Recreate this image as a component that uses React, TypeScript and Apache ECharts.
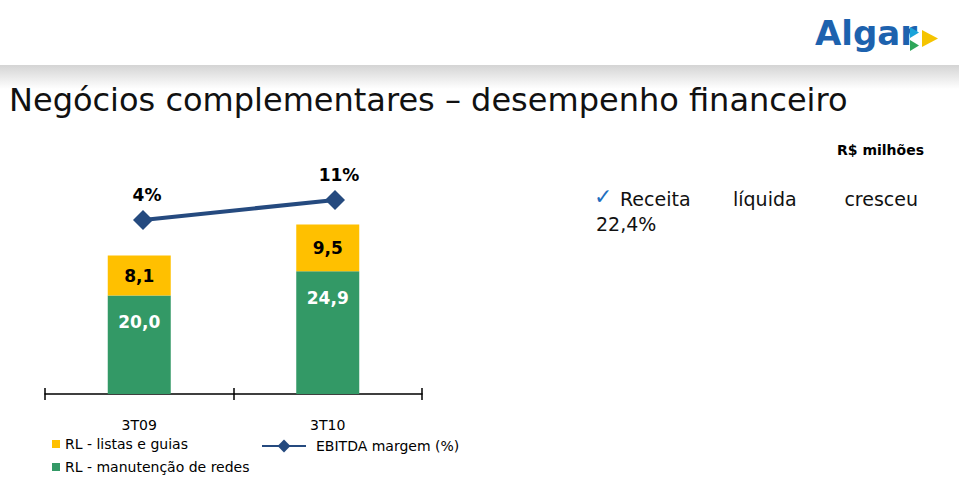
import React, { useEffect, useRef } from "react";
import * as echarts from "echarts";

const categories = ["3T09", "3T10"];
const listasGuias = [8.1, 9.5];
const manutencaoRedes = [20.0, 24.9];
const ebitdaMargem = [4, 11];

const fmt = (v: number) => v.toFixed(1).replace(".", ",");

export default function App() {
  const ref = useRef<HTMLDivElement>(null);
  useEffect(() => {
    const chart = echarts.init(ref.current!, null, { renderer: "svg" });
    const font = "DejaVu Sans, Verdana, sans-serif";
    const legendText = { fontSize: 14, color: "#000", fontFamily: font };
    chart.setOption({
      animation: false,
      backgroundColor: "#ffffff",
      textStyle: { fontFamily: font },
      grid: [
        { left: 45, right: 537, top: 160, bottom: 83 },
        { left: 45, right: 537, top: 160, bottom: 83 },
        { left: 47, right: 528, top: 160, bottom: 83 },
      ],
      xAxis: [
        {
          type: "category",
          gridIndex: 0,
          data: categories,
          boundaryGap: true,
          axisLine: { lineStyle: { color: "#000", width: 1.5 } },
          axisTick: { show: true, length: 6, lineStyle: { color: "#000", width: 1.5 } },
          axisLabel: { color: "#000", fontSize: 14, margin: 24, fontFamily: font },
        },
        {
          type: "category",
          gridIndex: 1,
          data: categories,
          boundaryGap: true,
          axisLine: { show: false },
          axisTick: { show: true, inside: true, length: 6, lineStyle: { color: "#000", width: 1.5 } },
          axisLabel: { show: false },
        },
        {
          type: "category",
          gridIndex: 2,
          data: categories,
          boundaryGap: true,
          show: false,
        },
      ],
      yAxis: [
        { type: "value", gridIndex: 0, min: 0, max: 47.5, show: false, splitLine: { show: false } },
        { type: "value", gridIndex: 1, min: 0, max: 47.5, show: false, splitLine: { show: false } },
        { type: "value", gridIndex: 2, min: -57, max: 25, show: false, splitLine: { show: false } },
      ],
      legend: [
        {
          left: 47,
          top: 432,
          itemWidth: 8,
          itemHeight: 8,
          icon: "rect",
          data: ["RL - listas e guias"],
          textStyle: legendText,
        },
        {
          left: 47,
          top: 455,
          itemWidth: 8,
          itemHeight: 8,
          icon: "rect",
          data: ["RL - manutenção de redes"],
          textStyle: legendText,
        },
        {
          left: 256,
          top: 434,
          itemWidth: 44,
          itemHeight: 16,
          data: ["EBITDA margem (%)"],
          textStyle: { ...legendText, padding: [0, 0, 0, 5] },
        },
      ],
      series: [
        {
          name: "RL - manutenção de redes",
          type: "bar",
          stack: "rl",
          barWidth: 63,
          data: manutencaoRedes,
          itemStyle: { color: "#339966" },
          label: {
            show: true,
            position: "insideTop",
            distance: 18,
            color: "#ffffff",
            fontWeight: "bold",
            fontSize: 17,
            fontFamily: font,
            formatter: (p: any) => fmt(p.value),
          },
        },
        {
          name: "RL - listas e guias",
          type: "bar",
          stack: "rl",
          barWidth: 63,
          data: listasGuias,
          itemStyle: { color: "#FFC000" },
          label: {
            show: true,
            position: "inside",
            color: "#000",
            fontWeight: "bold",
            fontSize: 17,
            fontFamily: font,
            formatter: (p: any) => fmt(p.value),
          },
        },
        {
          name: "EBITDA margem (%)",
          type: "line",
          xAxisIndex: 2,
          yAxisIndex: 2,
          data: ebitdaMargem,
          symbol: "diamond",
          symbolSize: 20,
          lineStyle: { color: "#254A7F", width: 4 },
          itemStyle: { color: "#254A7F" },
          label: {
            show: true,
            position: "top",
            distance: 6,
            offset: [4, 0],
            color: "#000",
            fontWeight: "bold",
            fontSize: 17,
            fontFamily: font,
            formatter: (p: any) => p.value + "%",
          },
        },
      ],
      graphic: [
        {
          type: "rect",
          shape: { x: 0, y: 65, width: 959, height: 24 },
          style: {
            fill: new echarts.graphic.LinearGradient(0, 0, 0, 1, [
              { offset: 0, color: "#d4d4d4" },
              { offset: 1, color: "#ffffff" },
            ]),
          },
        },
        {
          type: "text",
          left: 9,
          top: 84,
          style: {
            text: "Negócios complementares – desempenho financeiro",
            font: `32px ${font}`,
            fill: "#111",
          },
        },
        {
          type: "text",
          left: 815,
          top: 16,
          style: {
            text: "Algar",
            font: `bold 34px ${font}`,
            fill: "#1D62AE",
          },
        },
        {
          type: "polygon",
          shape: { points: [[910, 27], [919, 32.5], [910, 38]] },
          style: { fill: "#1AA3D9" },
        },
        {
          type: "polygon",
          shape: { points: [[922, 30], [938, 38.5], [922, 47]] },
          style: { fill: "#F5C400" },
        },
        {
          type: "polygon",
          shape: { points: [[910, 40], [919, 45.5], [910, 51]] },
          style: { fill: "#2EA65A" },
        },
        {
          type: "text",
          right: 35,
          top: 143,
          style: { text: "R$ milhões", font: `bold 14px ${font}`, fill: "#000" },
        },
        {
          type: "text",
          left: 594,
          top: 185,
          style: { text: "✓", font: `22px ${font}`, fill: "#1F6FBF" },
        },
        {
          type: "text",
          left: 620,
          top: 189,
          style: { text: "Receita", font: `19px ${font}`, fill: "#111" },
        },
        {
          type: "text",
          left: 733,
          top: 189,
          style: { text: "líquida", font: `19px ${font}`, fill: "#111" },
        },
        {
          type: "text",
          right: 41,
          top: 189,
          style: { text: "cresceu", font: `19px ${font}`, fill: "#111" },
        },
        {
          type: "text",
          left: 596,
          top: 214,
          style: { text: "22,4%", font: `19px ${font}`, fill: "#111" },
        },
      ],
    });
    return () => chart.dispose();
  }, []);
  return (
    <div
      ref={ref}
      style={{ position: "fixed", left: 0, top: 0, width: 959, height: 477 }}
    />
  );
}
